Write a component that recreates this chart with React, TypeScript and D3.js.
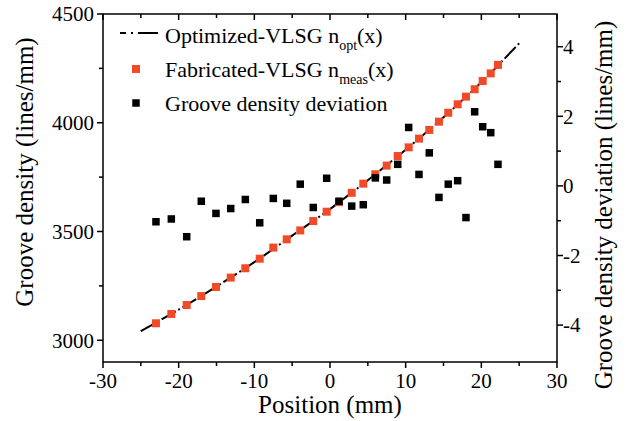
import React from 'react';
import * as d3 from 'd3';

// Measurement positions (mm)
const positions = [-23.0, -20.97, -18.94, -17.01, -15.07, -13.12, -11.19, -9.29, -7.49, -5.72,
  -3.93, -2.21, -0.44, 1.19, 2.87, 4.40, 5.99, 7.49, 8.95, 10.40,
  11.76, 13.12, 14.40, 15.63, 16.87, 17.97, 19.12, 20.18, 21.24, 22.20];
// Fabricated-VLSG measured groove density (lines/mm)
const measured = [3078, 3121, 3162, 3203, 3245, 3288, 3331, 3375, 3426, 3464,
  3505, 3548, 3591, 3635, 3678, 3720, 3763, 3803, 3847, 3887,
  3927, 3967, 4005, 4046, 4085, 4120, 4154, 4192, 4227, 4266];
// Groove density deviation (lines/mm)
const deviation = [-1.03, -0.95, -1.46, -0.44, -0.79, -0.65, -0.39, -1.06, -0.36, -0.50,
  0.05, -0.62, 0.22, -0.44, -0.58, -0.54, 0.23, 0.17, 0.62, 1.68,
  0.33, 0.95, -0.33, 0.05, 0.15, -0.91, 2.13, 1.70, 1.53, 0.62];
// Optimized-VLSG design curve
const optX = [-25, -20, -15, -10, -5, 0, 5, 10, 15, 20, 25];
const optN = [3042, 3141, 3247, 3359, 3481, 3603, 3736, 3876, 4025, 4186, 4365];

const xTicks = [-30, -20, -10, 0, 10, 20, 30];
const xMinor = [-25, -15, -5, 5, 15, 25];
const leftTicks = [3000, 3500, 4000, 4500];
const leftMinor = [3250, 3750, 4250];
const rightTicks = [-4, -2, 0, 2, 4];
const rightMinor = [-3, -1, 1, 3];

const W = 628, H = 421;
const L = 103, R = 557, T = 14, B = 362;
const FONT = '"Liberation Serif", "Times New Roman", Times, serif';
const RED = '#f04a28';

export default function App() {
  const x = d3.scaleLinear().domain([-30, 30]).range([L, R]);
  const yL = d3.scaleLinear().domain([2900, 4500]).range([B, T]);
  const yR = d3.scaleLinear().domain([-5.06, 4.94]).range([B, T]);

  const line = d3.line<number>()
    .x((_, i) => x(optX[i]))
    .y((d) => yL(d))
    .curve(d3.curveCatmullRom);
  const linePath = line(optN) || '';

  const sq = 8;
  const sqB = 7.5;
  const ts = { fontFamily: FONT };

  return (
    <svg width={W} height={H} style={{ position: 'absolute', left: 0, top: 0, background: '#fff', fontFamily: FONT }}>
      <rect x={0} y={0} width={W} height={H} fill="#fff" />
      {/* frame */}
      <rect x={L} y={T} width={R - L} height={B - T} fill="none" stroke="#000" strokeWidth={1.5} />

      {/* bottom / top axis ticks */}
      {xTicks.map((t) => (
        <g key={'xt' + t}>
          <line x1={x(t)} x2={x(t)} y1={B} y2={B + 6} stroke="#000" strokeWidth={1.5} />
          <line x1={x(t)} x2={x(t)} y1={T} y2={T + 6} stroke="#000" strokeWidth={1.5} />
          <text style={ts} x={x(t)} y={B + 26} textAnchor="middle" fontSize={21}>{t}</text>
        </g>
      ))}
      {xMinor.map((t) => (
        <g key={'xm' + t}>
          <line x1={x(t)} x2={x(t)} y1={B} y2={B + 4} stroke="#000" strokeWidth={1.5} />
          <line x1={x(t)} x2={x(t)} y1={T} y2={T + 4} stroke="#000" strokeWidth={1.5} />
        </g>
      ))}

      {/* left axis */}
      {leftTicks.map((t) => (
        <g key={'lt' + t}>
          <line x1={L - 6} x2={L} y1={yL(t)} y2={yL(t)} stroke="#000" strokeWidth={1.5} />
          <text style={ts} x={L - 9} y={yL(t)} dy="0.35em" textAnchor="end" fontSize={21}>{t}</text>
        </g>
      ))}
      {leftMinor.map((t) => (
        <line key={'lm' + t} x1={L - 4} x2={L} y1={yL(t)} y2={yL(t)} stroke="#000" strokeWidth={1.5} />
      ))}

      {/* right axis */}
      {rightTicks.map((t) => (
        <g key={'rt' + t}>
          <line x1={R} x2={R + 6} y1={yR(t)} y2={yR(t)} stroke="#000" strokeWidth={1.5} />
          <text style={ts} x={R + 6} y={yR(t)} dy="0.35em" textAnchor="start" fontSize={21}>{t}</text>
        </g>
      ))}
      {rightMinor.map((t) => (
        <line key={'rm' + t} x1={R} x2={R + 4} y1={yR(t)} y2={yR(t)} stroke="#000" strokeWidth={1.5} />
      ))}

      {/* axis titles */}
      <text style={ts} x={330} y={413} textAnchor="middle" fontSize={25}>Position (mm)</text>
      <text style={ts} transform={`translate(33,172) rotate(-90)`} textAnchor="middle" fontSize={25}>Groove density (lines/mm)</text>
      <text style={ts} transform={`translate(612,205) rotate(-90)`} textAnchor="middle" fontSize={25}>Groove density deviation (lines/mm)</text>

      {/* optimized curve */}
      <path d={linePath} fill="none" stroke="#000" strokeWidth={2} strokeDasharray="16 3 2 3" />

      {/* fabricated points */}
      {positions.map((p, i) => (
        <rect key={'m' + i} x={x(p) - sq / 2} y={yL(measured[i]) - sq / 2} width={sq} height={sq} fill={RED} />
      ))}
      {/* deviation points */}
      {positions.map((p, i) => (
        <rect key={'d' + i} x={x(p) - sqB / 2} y={yR(deviation[i]) - sqB / 2} width={sqB} height={sqB} fill="#000" />
      ))}

      {/* legend */}
      <line x1={120} x2={158} y1={33} y2={33} stroke="#000" strokeWidth={2} strokeDasharray="6 5 2 5 20" />
      <text style={ts} x={165} y={43} fontSize={22}>
        Optimized-VLSG n<tspan fontSize={14} dy={7}>opt</tspan><tspan dy={-7}>(x)</tspan>
      </text>
      <rect x={136 - sq / 2} y={69 - sq / 2} width={sq} height={sq} fill={RED} />
      <text style={ts} x={165} y={77} fontSize={22}>
        Fabricated-VLSG n<tspan fontSize={14} dy={7}>meas</tspan><tspan dy={-7}>(x)</tspan>
      </text>
      <rect x={136 - sqB / 2} y={103 - sqB / 2} width={sqB} height={sqB} fill="#000" />
      <text style={ts} x={165} y={111} fontSize={22}>Groove density deviation</text>
    </svg>
  );
}
